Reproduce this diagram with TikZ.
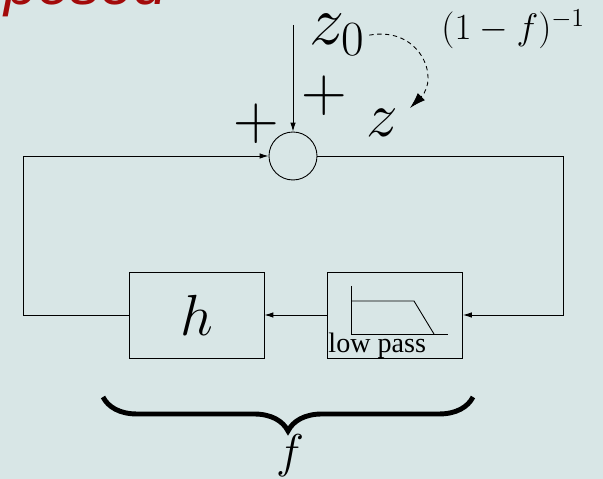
\RequirePackage{fix-cm}
\documentclass[tikz,border=0pt]{standalone}
\usepackage{fontspec}
\setsansfont{Liberation Sans}
\newfontfamily\lpfont{Liberation Serif}
\usepackage{xcolor}
\usepackage{tikz}
\usetikzlibrary{arrows.meta,positioning,decorations.pathreplacing}
\definecolor{slidebg}{HTML}{D8E6E6}
\definecolor{titlered}{HTML}{A30A0A}

\begin{document}
\begin{tikzpicture}[x=0.02cm,y=-0.02cm,line width=0.5pt,
  blk/.style={draw,minimum width=2.7cm,minimum height=1.72cm,inner sep=0pt},
  sum/.style={draw,circle,minimum size=0.96cm,inner sep=0pt},
  ar/.style={-{Latex[length=1.8mm,width=1.1mm]}},
  big/.style={font=\fontsize{40}{40}\selectfont}]
\fill[slidebg] (0,0) rectangle (603,479);
\useasboundingbox (0,0) rectangle (603,479);
\clip (0,0) rectangle (603,479);
\node[anchor=base west,inner sep=0pt,text=titlered,font=\sffamily\itshape\fontsize{34}{34}\selectfont] (ttl) at (4,5) {posed};
% loop
\node[sum] (sum) at (293,156) {};
\coordinate (in) at (293,25);
\node[blk] (lp) at (395,315) {};
\node[blk,font=\fontsize{33}{33}\selectfont] (h) at (196.5,315) {$h$};
\coordinate (rc) at (563,315);
\coordinate (lc) at (23,315);
\draw[ar] (in) -- (sum);
\draw[ar] (sum) -| (rc) -- (lp);
\draw[ar] (lp) -- (h);
\draw[ar] (h) -| (lc) |- (sum);
% filter sketch
\draw (351,286) |- (448,334);
\draw (351,301) -- (414,301) -- (434,334);
\node[anchor=base west,inner sep=0pt,font=\lpfont\fontsize{16}{16}\selectfont] (lptxt) at (328,353) {low pass};
% labels
\node[big,anchor=base west,inner sep=2pt] (z0) at (306,45) {$z_0$};
\node[anchor=base west,inner sep=0pt,font=\fontsize{21}{21}\selectfont] (inv) at (441,40) {$(1-f)^{-1}$};
\node[anchor=base west,inner sep=0pt,font=\fontsize{36}{36}\selectfont] (z) at (366,137) {$z$};
\node[font=\fontsize{36}{36}\selectfont] (pl) at (256,124) {$+$};
\node[font=\fontsize{36}{36}\selectfont] (pr) at (324,96) {$+$};
\coordinate (zt) at (410,108);
\draw[dash pattern=on 2.5pt off 2pt,-{Latex[length=3.2mm,width=2mm]}] (z0.east) .. controls (420,26) and (440,78) .. (zt);
\draw[decorate,decoration={brace,amplitude=0.68cm},line width=2.8pt] (473,397) -- (103,397);
\node[font=\fontsize{27}{27}\selectfont] (f) at (290,456) {$f$};
\end{tikzpicture}
\end{document}
